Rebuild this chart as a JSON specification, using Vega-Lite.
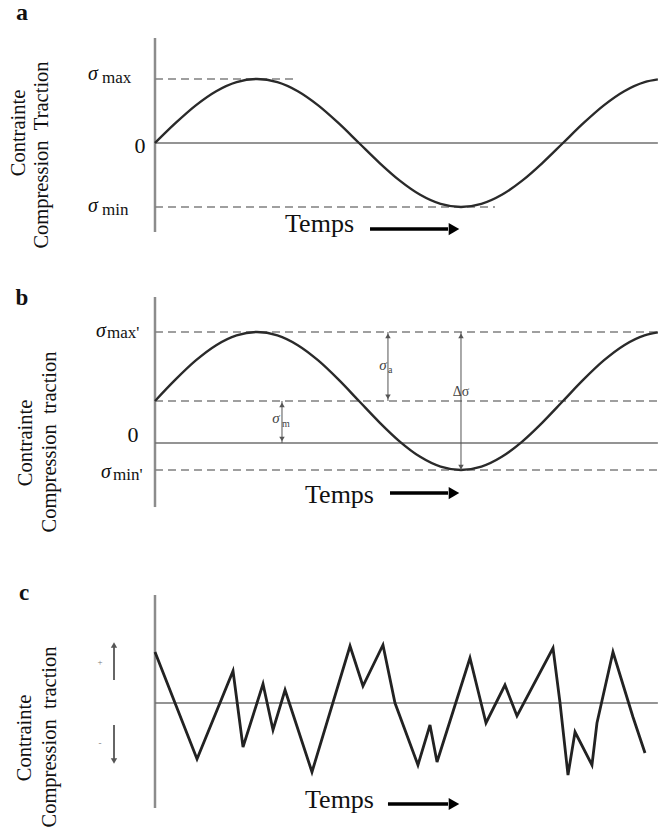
{
  "$schema": "https://vega.github.io/schema/vega-lite/v6.json",
  "background": "white",
  "padding": 0,
  "spacing": 0,
  "bounds": "flush",
  "config": {"view": {"stroke": null}, "text": {"font": "Liberation Serif", "color": "#111"}},
  "vconcat": [
    {
      "width": 658, "height": 268,
      "encoding": {
        "x": {"field": "t", "type": "quantitative", "scale": {"domain": [-1.5196, 4.9314], "nice": false, "zero": false}, "axis": null},
        "y": {"field": "y", "type": "quantitative", "scale": {"domain": [-1.9531, 2.2344], "nice": false, "zero": false}, "axis": null}
      },
      "layer": [
        {"data": {"values": [{"t": 0, "y": 1.641, "y2": -1.391}]}, "mark": {"type": "rule", "color": "#8c8c8c", "strokeWidth": 2.5}, "encoding": {"y2": {"field": "y2"}}},
        {"data": {"values": [{"t": 0, "t2": 4.93, "y": 0}]}, "mark": {"type": "rule", "color": "#707070", "strokeWidth": 1.5}, "encoding": {"x2": {"field": "t2"}}},
        {"data": {"values": [{"t": 0, "t2": 1.373, "y": 1}, {"t": 0, "t2": 3.333, "y": -1}]}, "mark": {"type": "rule", "color": "#808080", "strokeWidth": 1.5, "strokeDash": [8, 5]}, "encoding": {"x2": {"field": "t2"}}},
        {"data": {"values": [
          {"t": 0, "y": 0}, {"t": 0.2, "y": 0.309}, {"t": 0.4, "y": 0.5878}, {"t": 0.6, "y": 0.809}, {"t": 0.8, "y": 0.9511},
          {"t": 1.0, "y": 1}, {"t": 1.2, "y": 0.9511}, {"t": 1.4, "y": 0.809}, {"t": 1.6, "y": 0.5878}, {"t": 1.8, "y": 0.309},
          {"t": 2.0, "y": 0}, {"t": 2.2, "y": -0.309}, {"t": 2.4, "y": -0.5878}, {"t": 2.6, "y": -0.809}, {"t": 2.8, "y": -0.9511},
          {"t": 3.0, "y": -1}, {"t": 3.2, "y": -0.9511}, {"t": 3.4, "y": -0.809}, {"t": 3.6, "y": -0.5878}, {"t": 3.8, "y": -0.309},
          {"t": 4.0, "y": 0}, {"t": 4.2, "y": 0.309}, {"t": 4.4, "y": 0.5878}, {"t": 4.6, "y": 0.809}, {"t": 4.8, "y": 0.9511}, {"t": 4.93, "y": 0.994}
        ]}, "mark": {"type": "line", "color": "#2a2a2a", "strokeWidth": 2.4, "interpolate": "monotone"}},
        {"data": {"values": [{"t": 2.108, "t2": 2.873, "y": -1.344}]}, "mark": {"type": "rule", "color": "#000", "strokeWidth": 3.5}, "encoding": {"x2": {"field": "t2"}}},
        {"data": {"values": [{"t": 2.931, "y": -1.344}]}, "mark": {"type": "point", "shape": "triangle-right", "filled": true, "color": "#000", "opacity": 1, "size": 150}},
        {"data": {"values": [{"t": -1.304, "y": 1.922, "label": "a"}]}, "mark": {"type": "text", "fontSize": 24, "fontWeight": "bold", "align": "center", "baseline": "alphabetic"}, "encoding": {"text": {"field": "label"}}},
        {"data": {"values": [{"t": -1.333, "y": 0.156, "label": "Contrainte"}, {"t": -1.108, "y": -0.1875, "label": "Compression\u00a0\u00a0Traction"}]}, "mark": {"type": "text", "fontSize": 20.5, "angle": 270, "align": "center", "baseline": "middle"}, "encoding": {"text": {"field": "label"}}},
        {"data": {"values": [{"t": -0.608, "y": 0.984, "label": "σ"}, {"t": -0.608, "y": -1.078, "label": "σ"}]}, "mark": {"type": "text", "fontSize": 20, "fontStyle": "italic", "align": "center", "baseline": "alphabetic"}, "encoding": {"text": {"field": "label"}}},
        {"data": {"values": [{"t": -0.52, "y": 0.9375, "label": "max"}, {"t": -0.52, "y": -1.125, "label": "min"}]}, "mark": {"type": "text", "fontSize": 17, "align": "left", "baseline": "alphabetic"}, "encoding": {"text": {"field": "label"}}},
        {"data": {"values": [{"t": -0.147, "y": -0.156, "label": "0"}]}, "mark": {"type": "text", "fontSize": 22, "align": "center", "baseline": "alphabetic"}, "encoding": {"text": {"field": "label"}}},
        {"data": {"values": [{"t": 1.275, "y": -1.391, "label": "Temps"}]}, "mark": {"type": "text", "fontSize": 26, "align": "left", "baseline": "alphabetic"}, "encoding": {"text": {"field": "label"}}}
      ]
    },
    {
      "width": 658, "height": 268,
      "encoding": {
        "x": {"field": "t", "type": "quantitative", "scale": {"domain": [-1.5196, 4.9314], "nice": false, "zero": false}, "axis": null},
        "y": {"field": "y", "type": "quantitative", "scale": {"domain": [-1.3478, 2.5362], "nice": false, "zero": false}, "axis": null}
      },
      "layer": [
        {"data": {"values": [{"t": 0, "y": 2.116, "y2": -0.928}]}, "mark": {"type": "rule", "color": "#8c8c8c", "strokeWidth": 2.5}, "encoding": {"y2": {"field": "y2"}}},
        {"data": {"values": [{"t": 0, "t2": 4.93, "y": 0}]}, "mark": {"type": "rule", "color": "#707070", "strokeWidth": 1.5}, "encoding": {"x2": {"field": "t2"}}},
        {"data": {"values": [{"t": 0, "t2": 4.93, "y": 1.6087}, {"t": 0, "t2": 4.93, "y": 0.6087}, {"t": 0, "t2": 4.93, "y": -0.3913}]}, "mark": {"type": "rule", "color": "#808080", "strokeWidth": 1.5, "strokeDash": [8, 5]}, "encoding": {"x2": {"field": "t2"}}},
        {"data": {"values": [
          {"t": 0, "y": 0.6087}, {"t": 0.2, "y": 0.9177}, {"t": 0.4, "y": 1.1965}, {"t": 0.6, "y": 1.4177}, {"t": 0.8, "y": 1.5598},
          {"t": 1.0, "y": 1.6087}, {"t": 1.2, "y": 1.5598}, {"t": 1.4, "y": 1.4177}, {"t": 1.6, "y": 1.1965}, {"t": 1.8, "y": 0.9177},
          {"t": 2.0, "y": 0.6087}, {"t": 2.2, "y": 0.2997}, {"t": 2.4, "y": 0.0209}, {"t": 2.6, "y": -0.2003}, {"t": 2.8, "y": -0.3424},
          {"t": 3.0, "y": -0.3913}, {"t": 3.2, "y": -0.3424}, {"t": 3.4, "y": -0.2003}, {"t": 3.6, "y": 0.0209}, {"t": 3.8, "y": 0.2997},
          {"t": 4.0, "y": 0.6087}, {"t": 4.2, "y": 0.9177}, {"t": 4.4, "y": 1.1965}, {"t": 4.6, "y": 1.4177}, {"t": 4.8, "y": 1.5598}, {"t": 4.93, "y": 1.6027}
        ]}, "mark": {"type": "line", "color": "#2a2a2a", "strokeWidth": 2.4, "interpolate": "monotone"}},
        {"data": {"values": [{"t": 2.284, "y": 1.6087, "y2": 0.6087}, {"t": 3.0, "y": 1.6087, "y2": -0.3913}, {"t": 1.245, "y": 0.6087, "y2": 0}]}, "mark": {"type": "rule", "color": "#555", "strokeWidth": 1}, "encoding": {"y2": {"field": "y2"}}},
        {"data": {"values": [{"t": 2.284, "y": 1.551}, {"t": 3.0, "y": 1.551}, {"t": 1.245, "y": 0.551}]}, "mark": {"type": "point", "shape": "triangle-up", "filled": true, "color": "#555", "opacity": 1, "size": 30}},
        {"data": {"values": [{"t": 2.284, "y": 0.667}, {"t": 3.0, "y": -0.348}, {"t": 1.245, "y": 0.058}]}, "mark": {"type": "point", "shape": "triangle-down", "filled": true, "color": "#555", "opacity": 1, "size": 30}},
        {"data": {"values": [{"t": 2.235, "y": 1.058, "label": "σ"}, {"t": 1.186, "y": 0.29, "label": "σ"}]}, "mark": {"type": "text", "fontSize": 15, "fontStyle": "italic", "align": "center", "baseline": "alphabetic", "color": "#444"}, "encoding": {"text": {"field": "label"}}},
        {"data": {"values": [{"t": 2.284, "y": 1.014, "label": "a"}, {"t": 1.245, "y": 0.232, "label": "m"}]}, "mark": {"type": "text", "fontSize": 10, "align": "left", "baseline": "alphabetic", "color": "#444"}, "encoding": {"text": {"field": "label"}}},
        {"data": {"values": [{"t": 3.0, "y": 0.681, "label": "Δσ"}]}, "mark": {"type": "text", "fontSize": 14, "align": "center", "baseline": "alphabetic", "color": "#444"}, "encoding": {"text": {"field": "label"}}},
        {"data": {"values": [{"t": 2.304, "t2": 2.873, "y": -0.725}]}, "mark": {"type": "rule", "color": "#000", "strokeWidth": 3.5}, "encoding": {"x2": {"field": "t2"}}},
        {"data": {"values": [{"t": 2.931, "y": -0.725}]}, "mark": {"type": "point", "shape": "triangle-right", "filled": true, "color": "#000", "opacity": 1, "size": 150}},
        {"data": {"values": [{"t": -1.304, "y": 2.0, "label": "b"}]}, "mark": {"type": "text", "fontSize": 23, "fontWeight": "bold", "align": "center", "baseline": "alphabetic"}, "encoding": {"text": {"field": "label"}}},
        {"data": {"values": [{"t": -1.265, "y": 0, "label": "Contrainte"}, {"t": -1.029, "y": 0.0145, "label": "Compression\u00a0\u00a0traction"}]}, "mark": {"type": "text", "fontSize": 20.5, "angle": 270, "align": "center", "baseline": "middle"}, "encoding": {"text": {"field": "label"}}},
        {"data": {"values": [{"t": -0.529, "y": 1.536, "label": "σ"}, {"t": -0.48, "y": -0.507, "label": "σ"}]}, "mark": {"type": "text", "fontSize": 20, "fontStyle": "italic", "align": "center", "baseline": "alphabetic"}, "encoding": {"text": {"field": "label"}}},
        {"data": {"values": [{"t": -0.471, "y": 1.522, "label": "max'"}, {"t": -0.412, "y": -0.536, "label": "min'"}]}, "mark": {"type": "text", "fontSize": 17, "align": "left", "baseline": "alphabetic"}, "encoding": {"text": {"field": "label"}}},
        {"data": {"values": [{"t": -0.216, "y": 0.0145, "label": "0"}]}, "mark": {"type": "text", "fontSize": 22, "align": "center", "baseline": "alphabetic"}, "encoding": {"text": {"field": "label"}}},
        {"data": {"values": [{"t": 1.471, "y": -0.87, "label": "Temps"}]}, "mark": {"type": "text", "fontSize": 26, "align": "left", "baseline": "alphabetic"}, "encoding": {"text": {"field": "label"}}}
      ]
    },
    {
      "width": 658, "height": 295,
      "encoding": {
        "x": {"field": "t", "type": "quantitative", "scale": {"domain": [-1.5196, 4.9314], "nice": false, "zero": false}, "axis": null},
        "y": {"field": "y", "type": "quantitative", "scale": {"domain": [-2.56, 3.34], "nice": false, "zero": false}, "axis": null}
      },
      "layer": [
        {"data": {"values": [{"t": 0, "y": 2.16, "y2": -2.1}]}, "mark": {"type": "rule", "color": "#8c8c8c", "strokeWidth": 2.5}, "encoding": {"y2": {"field": "y2"}}},
        {"data": {"values": [{"t": 0, "t2": 4.93, "y": 0}]}, "mark": {"type": "rule", "color": "#707070", "strokeWidth": 1.5}, "encoding": {"x2": {"field": "t2"}}},
        {"data": {"values": [
          {"t": 0, "y": 1.02}, {"t": 0.412, "y": -1.12}, {"t": 0.765, "y": 0.64}, {"t": 0.863, "y": -0.88},
          {"t": 1.059, "y": 0.38}, {"t": 1.157, "y": -0.54}, {"t": 1.275, "y": 0.26}, {"t": 1.539, "y": -1.38},
          {"t": 1.912, "y": 1.14}, {"t": 2.039, "y": 0.34}, {"t": 2.235, "y": 1.16}, {"t": 2.353, "y": 0.0},
          {"t": 2.578, "y": -1.24}, {"t": 2.696, "y": -0.44}, {"t": 2.765, "y": -1.18}, {"t": 3.088, "y": 0.9},
          {"t": 3.245, "y": -0.4}, {"t": 3.431, "y": 0.36}, {"t": 3.549, "y": -0.26}, {"t": 3.902, "y": 1.1},
          {"t": 3.971, "y": 0.0}, {"t": 4.049, "y": -1.44}, {"t": 4.118, "y": -0.58}, {"t": 4.284, "y": -1.24},
          {"t": 4.333, "y": -0.4}, {"t": 4.49, "y": 1.02}, {"t": 4.686, "y": -0.28}, {"t": 4.804, "y": -1.0}
        ]}, "mark": {"type": "line", "color": "#222", "strokeWidth": 2.8, "strokeJoin": "miter"}},
        {"data": {"values": [{"t": -0.402, "y": 0.46, "y2": 1.18}, {"t": -0.402, "y": -0.44, "y2": -1.16}]}, "mark": {"type": "rule", "color": "#666", "strokeWidth": 2}, "encoding": {"y2": {"field": "y2"}}},
        {"data": {"values": [{"t": -0.402, "y": 1.16}]}, "mark": {"type": "point", "shape": "triangle-up", "filled": true, "color": "#555", "opacity": 1, "size": 40}},
        {"data": {"values": [{"t": -0.402, "y": -1.16}]}, "mark": {"type": "point", "shape": "triangle-down", "filled": true, "color": "#555", "opacity": 1, "size": 40}},
        {"data": {"values": [{"t": -0.539, "y": 0.76, "label": "+"}, {"t": -0.539, "y": -0.86, "label": "-"}]}, "mark": {"type": "text", "fontSize": 9, "align": "center", "baseline": "alphabetic", "color": "#777"}, "encoding": {"text": {"field": "label"}}},
        {"data": {"values": [{"t": 2.284, "t2": 2.873, "y": -2.02}]}, "mark": {"type": "rule", "color": "#000", "strokeWidth": 3.5}, "encoding": {"x2": {"field": "t2"}}},
        {"data": {"values": [{"t": 2.931, "y": -2.02}]}, "mark": {"type": "point", "shape": "triangle-right", "filled": true, "color": "#000", "opacity": 1, "size": 150}},
        {"data": {"values": [{"t": -1.284, "y": 2.06, "label": "c"}]}, "mark": {"type": "text", "fontSize": 23, "fontWeight": "bold", "align": "center", "baseline": "alphabetic"}, "encoding": {"text": {"field": "label"}}},
        {"data": {"values": [{"t": -1.275, "y": -0.7, "label": "Contrainte"}, {"t": -1.029, "y": -0.68, "label": "Compression\u00a0\u00a0traction"}]}, "mark": {"type": "text", "fontSize": 20.5, "angle": 270, "align": "center", "baseline": "middle"}, "encoding": {"text": {"field": "label"}}},
        {"data": {"values": [{"t": 1.471, "y": -2.1, "label": "Temps"}]}, "mark": {"type": "text", "fontSize": 26, "align": "left", "baseline": "alphabetic"}, "encoding": {"text": {"field": "label"}}}
      ]
    }
  ]
}
